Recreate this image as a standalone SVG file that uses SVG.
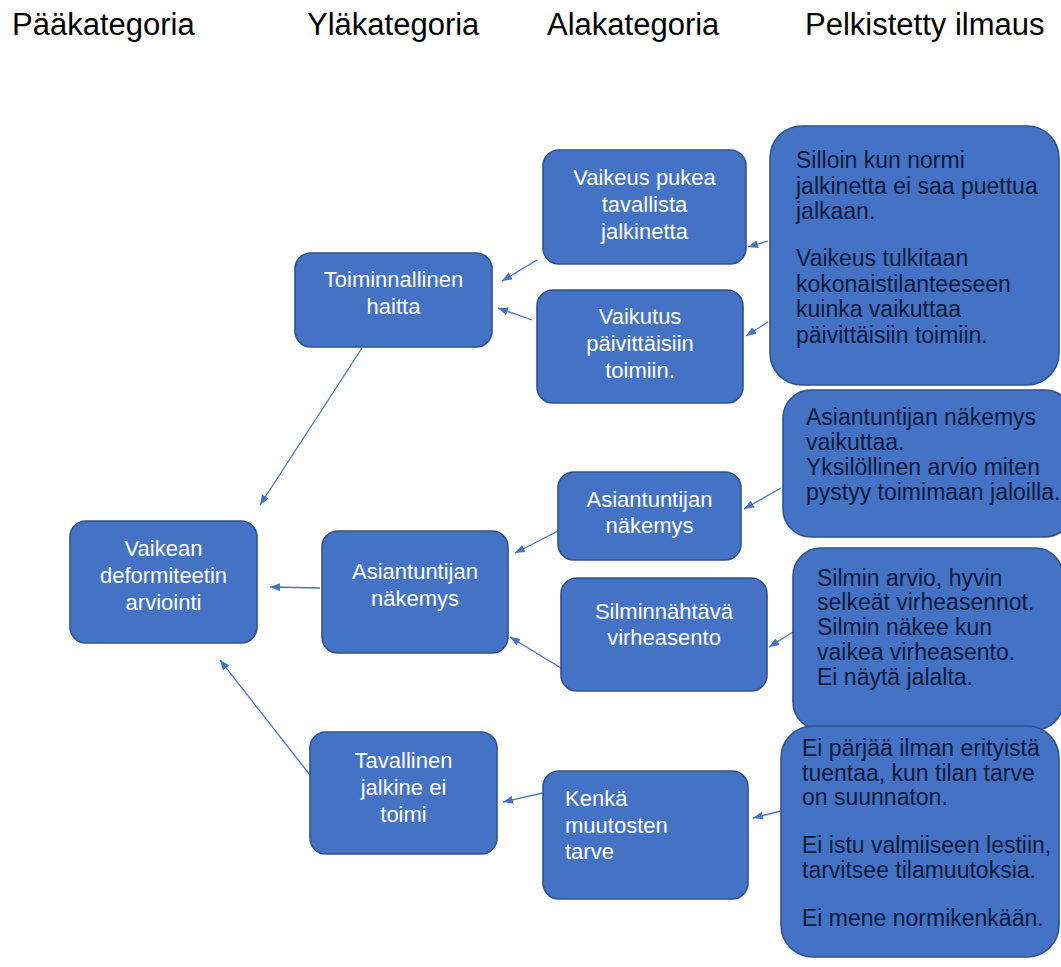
<svg xmlns="http://www.w3.org/2000/svg" width="1061" height="967" viewBox="0 0 1061 967">
<style>
.hdr{font-family:"Liberation Sans",Arial,sans-serif;font-size:31px;fill:#000}
.box{fill:#4472C4;stroke:#2F528F;stroke-width:1.6}
.nt{font-family:"Liberation Sans",Arial,sans-serif;font-size:22px;fill:#fff;text-anchor:middle}
.nl{font-family:"Liberation Sans",Arial,sans-serif;font-size:22px;fill:#fff}
.rt{font-family:"Liberation Sans",Arial,sans-serif;font-size:23px;fill:#0d1b3e}
.con line{stroke:#4472C4;stroke-width:1.3;fill:none;marker-end:url(#ah)}
</style>
<defs>
<marker id="ah" viewBox="0 0 10 8" markerWidth="10" markerHeight="8" refX="10" refY="4" orient="auto" markerUnits="userSpaceOnUse">
<path d="M0,0 L10,4 L0,8 z" fill="#4472C4"/>
</marker>
</defs>
<rect width="1061" height="967" fill="#fff"/>
<g id="headers">
<text class="hdr" x="12" y="35">Pääkategoria</text>
<text class="hdr" x="307" y="35">Yläkategoria</text>
<text class="hdr" x="547" y="35">Alakategoria</text>
<text class="hdr" x="805" y="35">Pelkistetty ilmaus</text>
</g>
<g id="connectors" class="con">
<line x1="768" y1="241" x2="748" y2="247"/>
<line x1="768" y1="322" x2="746" y2="336"/>
<line x1="537" y1="260" x2="502" y2="281"/>
<line x1="532" y1="320" x2="498" y2="308"/>
<line x1="362" y1="348" x2="260" y2="505"/>
<line x1="781" y1="488" x2="744" y2="509"/>
<line x1="793" y1="632" x2="769" y2="647"/>
<line x1="560" y1="530" x2="515" y2="553"/>
<line x1="561" y1="668" x2="510" y2="637"/>
<line x1="320" y1="588" x2="270" y2="587"/>
<line x1="310" y1="775" x2="220" y2="660"/>
<line x1="543" y1="793" x2="503" y2="802"/>
<line x1="781" y1="811" x2="753" y2="818"/>
</g>
<g id="n_vaikean">
<rect class="box" x="70" y="521" width="187" height="122" rx="16"/>
<text class="nt" x="163.5" y="556">Vaikean</text>
<text class="nt" x="163.5" y="583">deformiteetin</text>
<text class="nt" x="163.5" y="610">arviointi</text>
</g>
<g id="n_toiminnallinen">
<rect class="box" x="295" y="253" width="197" height="94" rx="16"/>
<text class="nt" x="393.5" y="287">Toiminnallinen</text>
<text class="nt" x="393.5" y="314">haitta</text>
</g>
<g id="n_asiantuntijan_yla">
<rect class="box" x="322" y="531" width="186" height="122" rx="16"/>
<text class="nt" x="415" y="579">Asiantuntijan</text>
<text class="nt" x="415" y="606">näkemys</text>
</g>
<g id="n_tavallinen">
<rect class="box" x="310" y="732" width="187" height="122" rx="16"/>
<text class="nt" x="403.5" y="768">Tavallinen</text>
<text class="nt" x="403.5" y="795">jalkine ei</text>
<text class="nt" x="403.5" y="822">toimi</text>
</g>
<g id="n_vaikeus">
<rect class="box" x="543" y="150" width="203" height="114" rx="16"/>
<text class="nt" x="644.5" y="185">Vaikeus pukea</text>
<text class="nt" x="644.5" y="212">tavallista</text>
<text class="nt" x="644.5" y="239">jalkinetta</text>
</g>
<g id="n_vaikutus">
<rect class="box" x="537" y="290" width="206" height="113" rx="16"/>
<text class="nt" x="640" y="324">Vaikutus</text>
<text class="nt" x="640" y="351">päivittäisiin</text>
<text class="nt" x="640" y="378">toimiin.</text>
</g>
<g id="n_asiantuntijan_ala">
<rect class="box" x="558" y="472" width="183" height="88" rx="16"/>
<text class="nt" x="649.5" y="507">Asiantuntijan</text>
<text class="nt" x="649.5" y="533">näkemys</text>
</g>
<g id="n_silminnahtava">
<rect class="box" x="561" y="578" width="206" height="113" rx="16"/>
<text class="nt" x="664" y="619">Silminnähtävä</text>
<text class="nt" x="664" y="645">virheasento</text>
</g>
<g id="n_kenka">
<rect class="box" x="543" y="771" width="205" height="128" rx="16"/>
<text class="nl" x="565" y="806">Kenkä</text>
<text class="nl" x="565" y="833">muutosten</text>
<text class="nl" x="565" y="859">tarve</text>
</g>
<g id="r_silloin">
<rect class="box" x="770" y="126" width="289" height="259" rx="32"/>
<text class="rt" x="796" y="168">Silloin kun normi</text>
<text class="rt" x="796" y="194">jalkinetta ei saa puettua</text>
<text class="rt" x="796" y="219">jalkaan.</text>
<text class="rt" x="796" y="266">Vaikeus tulkitaan</text>
<text class="rt" x="796" y="292">kokonaistilanteeseen</text>
<text class="rt" x="796" y="317">kuinka vaikuttaa</text>
<text class="rt" x="796" y="343">päivittäisiin toimiin.</text>
</g>
<g id="r_asiantuntijan">
<rect class="box" x="783" y="390" width="290" height="147" rx="28"/>
<text class="rt" x="806" y="425">Asiantuntijan näkemys</text>
<text class="rt" x="806" y="450">vaikuttaa.</text>
<text class="rt" x="806" y="475">Yksilöllinen arvio miten</text>
<text class="rt" x="806" y="500">pystyy toimimaan jaloilla.</text>
</g>
<g id="r_silmin">
<rect class="box" x="793" y="548" width="270" height="182" rx="28"/>
<text class="rt" x="817" y="586">Silmin arvio, hyvin</text>
<text class="rt" x="817" y="610">selkeät virheasennot.</text>
<text class="rt" x="817" y="635">Silmin näkee kun</text>
<text class="rt" x="817" y="660">vaikea virheasento.</text>
<text class="rt" x="817" y="685">Ei näytä jalalta.</text>
</g>
<g id="r_eiparjaa">
<rect class="box" x="781" y="726" width="278" height="231" rx="32"/>
<text class="rt" x="802" y="756">Ei pärjää ilman erityistä</text>
<text class="rt" x="802" y="781">tuentaa, kun tilan tarve</text>
<text class="rt" x="802" y="805">on suunnaton.</text>
<text class="rt" x="802" y="853">Ei istu valmiiseen lestiin,</text>
<text class="rt" x="802" y="878">tarvitsee tilamuutoksia.</text>
<text class="rt" x="802" y="926">Ei mene normikenkään.</text>
</g>
</svg>
